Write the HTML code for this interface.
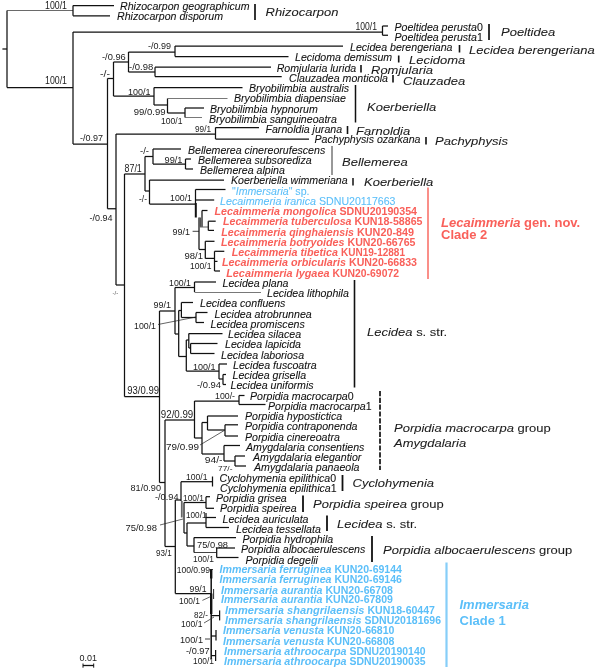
<!DOCTYPE html>
<html><head><meta charset="utf-8"><title>Phylogenetic tree</title>
<style>
html,body{margin:0;padding:0;background:#fff}
svg{display:block;filter:blur(0.35px)}
text{font-family:"Liberation Sans",Arial,sans-serif;fill:#111}
.sp{font-size:10.6px;font-style:italic;stroke:#111;stroke-width:0.08px}
.ge{font-size:13px;font-style:italic;fill:#1c1c1c;stroke:#1c1c1c;stroke-width:0.08px}
.su{font-size:8.8px;fill:#1a1a1a}
.up{font-style:normal}
.it{font-style:italic}
.bl{fill:#5bbff9;stroke:#5bbff9}
.bb{fill:#5bbff9;font-weight:bold;stroke:none}
.rd{fill:#f9605a;font-weight:bold;stroke:none}
.cl{font-size:13px;font-weight:bold}
</style></head><body>
<svg width="600" height="672" viewBox="0 0 600 672">
<rect width="600" height="672" fill="#fff"/>
<g stroke-linecap="butt" fill="none">
<line x1="2.4" y1="49" x2="7" y2="49" stroke="#111" stroke-width="1.25"/>
<line x1="7" y1="10.5" x2="7" y2="87.5" stroke="#111" stroke-width="1.25"/>
<line x1="7" y1="10.5" x2="73" y2="10.5" stroke="#444" stroke-width="0.8"/>
<line x1="73" y1="5.5" x2="73" y2="15.75" stroke="#111" stroke-width="1.25"/>
<line x1="73" y1="5.5" x2="114" y2="5.5" stroke="#111" stroke-width="1.25"/>
<line x1="73" y1="15.75" x2="110" y2="15.75" stroke="#111" stroke-width="1.25"/>
<line x1="7" y1="87.5" x2="73" y2="87.5" stroke="#111" stroke-width="1.25"/>
<line x1="73" y1="32" x2="73" y2="144" stroke="#111" stroke-width="1.25"/>
<line x1="73" y1="32" x2="382.5" y2="32" stroke="#111" stroke-width="1.25"/>
<line x1="382.5" y1="26.0" x2="382.5" y2="35.25" stroke="#111" stroke-width="1.25"/>
<line x1="382.5" y1="26.0" x2="388" y2="26.0" stroke="#111" stroke-width="1.25"/>
<line x1="382.5" y1="35.25" x2="388" y2="35.25" stroke="#111" stroke-width="1.25"/>
<line x1="73" y1="144" x2="107.5" y2="144" stroke="#111" stroke-width="1.25"/>
<line x1="107.5" y1="78.5" x2="107.5" y2="208.75" stroke="#111" stroke-width="1.25"/>
<line x1="107.5" y1="78.5" x2="113.5" y2="78.5" stroke="#111" stroke-width="1.25"/>
<line x1="113.5" y1="62" x2="113.5" y2="96" stroke="#111" stroke-width="1.25"/>
<line x1="113.5" y1="62" x2="128.5" y2="62" stroke="#111" stroke-width="1.25"/>
<line x1="128.5" y1="52" x2="128.5" y2="72" stroke="#111" stroke-width="1.25"/>
<line x1="128.5" y1="52" x2="175" y2="52" stroke="#111" stroke-width="1.25"/>
<line x1="175" y1="46" x2="175" y2="56.5" stroke="#111" stroke-width="1.25"/>
<line x1="175" y1="46" x2="343" y2="46" stroke="#111" stroke-width="1.25"/>
<line x1="175" y1="56.5" x2="288.5" y2="56.5" stroke="#111" stroke-width="1.25"/>
<line x1="128.5" y1="72" x2="155" y2="72" stroke="#111" stroke-width="1.25"/>
<line x1="155" y1="67.2" x2="155" y2="76.5" stroke="#111" stroke-width="1.25"/>
<line x1="155" y1="67.2" x2="271" y2="67.2" stroke="#111" stroke-width="1.25"/>
<line x1="155" y1="76.5" x2="281.7" y2="76.5" stroke="#111" stroke-width="1.25"/>
<line x1="113.5" y1="96" x2="154" y2="96" stroke="#111" stroke-width="1.25"/>
<line x1="154" y1="87.5" x2="154" y2="105" stroke="#111" stroke-width="1.25"/>
<line x1="154" y1="87.5" x2="242.5" y2="87.5" stroke="#111" stroke-width="1.25"/>
<line x1="154" y1="105" x2="167.5" y2="105" stroke="#111" stroke-width="1.25"/>
<line x1="167.5" y1="98.5" x2="167.5" y2="113" stroke="#111" stroke-width="1.25"/>
<line x1="167.5" y1="98.5" x2="227.5" y2="98.5" stroke="#555" stroke-width="0.8"/>
<line x1="167.5" y1="113" x2="185" y2="113" stroke="#111" stroke-width="1.25"/>
<line x1="185" y1="108" x2="185" y2="117.5" stroke="#111" stroke-width="1.25"/>
<line x1="185" y1="108" x2="204" y2="108" stroke="#111" stroke-width="1.25"/>
<line x1="185" y1="117.5" x2="202" y2="117.5" stroke="#555" stroke-width="0.8"/>
<line x1="107.5" y1="208.75" x2="116" y2="208.75" stroke="#111" stroke-width="1.25"/>
<line x1="116" y1="134" x2="116" y2="285" stroke="#111" stroke-width="1.25"/>
<line x1="116" y1="134" x2="215.5" y2="134" stroke="#111" stroke-width="1.25"/>
<line x1="215.5" y1="127.5" x2="215.5" y2="139" stroke="#111" stroke-width="1.25"/>
<line x1="215.5" y1="127.5" x2="259" y2="127.5" stroke="#111" stroke-width="1.25"/>
<line x1="215.5" y1="139" x2="309" y2="139" stroke="#111" stroke-width="1.25"/>
<line x1="116" y1="285" x2="124.5" y2="285" stroke="#111" stroke-width="1.25"/>
<line x1="124.5" y1="174" x2="124.5" y2="396.6" stroke="#111" stroke-width="1.25"/>
<line x1="124.5" y1="174" x2="145" y2="174" stroke="#111" stroke-width="1.25"/>
<line x1="145" y1="156.5" x2="145" y2="191" stroke="#111" stroke-width="1.25"/>
<line x1="145" y1="156.5" x2="153" y2="156.5" stroke="#111" stroke-width="1.25"/>
<line x1="153" y1="149" x2="153" y2="164" stroke="#111" stroke-width="1.25"/>
<line x1="153" y1="149" x2="181" y2="149" stroke="#111" stroke-width="1.25"/>
<line x1="153" y1="164" x2="185.5" y2="164" stroke="#111" stroke-width="1.25"/>
<line x1="185.5" y1="159" x2="185.5" y2="169" stroke="#111" stroke-width="1.25"/>
<line x1="185.5" y1="159" x2="191" y2="159" stroke="#111" stroke-width="1.25"/>
<line x1="185.5" y1="169" x2="193" y2="169" stroke="#111" stroke-width="1.25"/>
<line x1="145" y1="191" x2="149.5" y2="191" stroke="#111" stroke-width="1.25"/>
<line x1="149.5" y1="180" x2="149.5" y2="204" stroke="#111" stroke-width="1.25"/>
<line x1="149.5" y1="180" x2="224" y2="180" stroke="#111" stroke-width="1.25"/>
<line x1="149.5" y1="204" x2="195.5" y2="204" stroke="#111" stroke-width="1.25"/>
<line x1="195.5" y1="189.5" x2="195.5" y2="203.5" stroke="#111" stroke-width="1.25"/>
<line x1="195.5" y1="189.5" x2="225.5" y2="189.5" stroke="#111" stroke-width="1.25"/>
<line x1="195.5" y1="200" x2="214.2" y2="200" stroke="#111" stroke-width="1.25"/>
<line x1="195.8" y1="203" x2="195.8" y2="217.5" stroke="#111" stroke-width="2.0"/>
<line x1="199" y1="217.5" x2="199" y2="249.5" stroke="#111" stroke-width="1.25"/>
<line x1="200.2" y1="217.5" x2="200.2" y2="227" stroke="#555" stroke-width="1.6"/>
<line x1="202" y1="210.5" x2="202" y2="227" stroke="#111" stroke-width="1.25"/>
<line x1="202" y1="210.5" x2="207.5" y2="210.5" stroke="#111" stroke-width="1.25"/>
<line x1="199" y1="227" x2="208.3" y2="227" stroke="#666" stroke-width="1.0"/>
<line x1="208.3" y1="221.2" x2="208.3" y2="230.4" stroke="#111" stroke-width="1.25"/>
<line x1="208.3" y1="221.2" x2="215.7" y2="221.2" stroke="#111" stroke-width="1.25"/>
<line x1="208.3" y1="230.4" x2="214" y2="230.4" stroke="#111" stroke-width="1.25"/>
<line x1="192.6" y1="231.3" x2="199" y2="231.3" stroke="#111" stroke-width="0.8"/>
<line x1="199" y1="249.5" x2="205.3" y2="249.5" stroke="#111" stroke-width="1.25"/>
<line x1="205.3" y1="241.3" x2="205.3" y2="258.4" stroke="#111" stroke-width="1.25"/>
<line x1="205.3" y1="241.3" x2="214.5" y2="241.3" stroke="#111" stroke-width="1.25"/>
<line x1="205.3" y1="258.4" x2="214.5" y2="258.4" stroke="#111" stroke-width="1.25"/>
<line x1="214.5" y1="251.3" x2="214.5" y2="271" stroke="#111" stroke-width="1.25"/>
<line x1="214.5" y1="251.3" x2="224.3" y2="251.3" stroke="#111" stroke-width="1.25"/>
<line x1="214.5" y1="261.4" x2="217.5" y2="261.4" stroke="#111" stroke-width="1.25"/>
<line x1="214.5" y1="271" x2="220" y2="271" stroke="#111" stroke-width="1.25"/>
<line x1="124.5" y1="396.6" x2="159.5" y2="396.6" stroke="#111" stroke-width="1.25"/>
<line x1="159.5" y1="311" x2="159.5" y2="482.5" stroke="#111" stroke-width="1.25"/>
<line x1="159.5" y1="311" x2="175" y2="311" stroke="#111" stroke-width="1.25"/>
<line x1="175" y1="287.5" x2="175" y2="334" stroke="#111" stroke-width="1.25"/>
<line x1="175" y1="287.5" x2="194.5" y2="287.5" stroke="#111" stroke-width="1.25"/>
<line x1="194.5" y1="282" x2="194.5" y2="292" stroke="#111" stroke-width="1.25"/>
<line x1="194.5" y1="282" x2="216" y2="282" stroke="#111" stroke-width="1.25"/>
<line x1="194.5" y1="292.5" x2="261" y2="292.5" stroke="#555" stroke-width="0.8"/>
<line x1="175" y1="334" x2="178.7" y2="334" stroke="#111" stroke-width="1.25"/>
<line x1="178.7" y1="310.5" x2="178.7" y2="356.5" stroke="#111" stroke-width="1.25"/>
<line x1="178.7" y1="310.5" x2="181.4" y2="310.5" stroke="#111" stroke-width="1.25"/>
<line x1="181.4" y1="302.5" x2="181.4" y2="317.5" stroke="#111" stroke-width="1.25"/>
<line x1="181.4" y1="302.5" x2="193" y2="302.5" stroke="#111" stroke-width="1.25"/>
<line x1="181.4" y1="317.5" x2="196" y2="317.5" stroke="#111" stroke-width="1.25"/>
<line x1="196" y1="312.5" x2="196" y2="322.5" stroke="#111" stroke-width="1.25"/>
<line x1="196" y1="312.5" x2="207.5" y2="312.5" stroke="#111" stroke-width="1.25"/>
<line x1="196" y1="322.5" x2="204" y2="322.5" stroke="#111" stroke-width="1.25"/>
<line x1="158" y1="324.5" x2="196" y2="317" stroke="#222" stroke-width="0.7"/>
<line x1="178.7" y1="356.5" x2="186.3" y2="356.5" stroke="#111" stroke-width="1.25"/>
<line x1="186.3" y1="340" x2="186.3" y2="371" stroke="#111" stroke-width="1.25"/>
<line x1="186.3" y1="340" x2="188.8" y2="340" stroke="#111" stroke-width="1.25"/>
<line x1="188.8" y1="333.5" x2="188.8" y2="348" stroke="#111" stroke-width="1.25"/>
<line x1="188.8" y1="333.5" x2="222.5" y2="333.5" stroke="#111" stroke-width="1.25"/>
<line x1="188.8" y1="348" x2="190.6" y2="348" stroke="#111" stroke-width="1.25"/>
<line x1="190.6" y1="343.5" x2="190.6" y2="353.5" stroke="#111" stroke-width="1.25"/>
<line x1="190.6" y1="343.5" x2="217.5" y2="343.5" stroke="#111" stroke-width="1.25"/>
<line x1="190.6" y1="353.5" x2="214.5" y2="353.5" stroke="#111" stroke-width="1.25"/>
<line x1="186.3" y1="371" x2="219" y2="371" stroke="#111" stroke-width="1.25"/>
<line x1="219" y1="364" x2="219" y2="379" stroke="#111" stroke-width="1.25"/>
<line x1="219" y1="364" x2="227" y2="364" stroke="#111" stroke-width="1.25"/>
<line x1="219" y1="379" x2="223" y2="379" stroke="#111" stroke-width="1.25"/>
<line x1="223" y1="374.5" x2="223" y2="384.5" stroke="#111" stroke-width="1.25"/>
<line x1="223" y1="374.5" x2="226" y2="374.5" stroke="#111" stroke-width="1.25"/>
<line x1="223" y1="384.5" x2="226" y2="384.5" stroke="#111" stroke-width="1.25"/>
<line x1="159.5" y1="482.5" x2="165" y2="482.5" stroke="#111" stroke-width="1.25"/>
<line x1="165" y1="420" x2="165" y2="546.5" stroke="#111" stroke-width="1.25"/>
<line x1="165" y1="420" x2="194.5" y2="420" stroke="#111" stroke-width="1.25"/>
<line x1="194.5" y1="401" x2="194.5" y2="438" stroke="#111" stroke-width="1.25"/>
<line x1="194.5" y1="401" x2="239" y2="401" stroke="#111" stroke-width="1.25"/>
<line x1="239" y1="395.5" x2="239" y2="404.5" stroke="#111" stroke-width="1.25"/>
<line x1="239" y1="395.5" x2="244.5" y2="395.5" stroke="#111" stroke-width="1.25"/>
<line x1="239" y1="404.5" x2="265.5" y2="404.5" stroke="#111" stroke-width="1.25"/>
<line x1="194.5" y1="438" x2="202" y2="438" stroke="#111" stroke-width="1.25"/>
<line x1="202" y1="422.5" x2="202" y2="454" stroke="#111" stroke-width="1.25"/>
<line x1="202" y1="422.5" x2="207.5" y2="422.5" stroke="#111" stroke-width="1.25"/>
<line x1="207.5" y1="416" x2="207.5" y2="430" stroke="#111" stroke-width="1.25"/>
<line x1="207.5" y1="416" x2="238" y2="416" stroke="#111" stroke-width="1.25"/>
<line x1="207.5" y1="430" x2="225" y2="430" stroke="#111" stroke-width="1.25"/>
<line x1="225" y1="424.8" x2="225" y2="436" stroke="#111" stroke-width="1.25"/>
<line x1="225" y1="424.8" x2="238" y2="424.8" stroke="#111" stroke-width="1.25"/>
<line x1="225" y1="436" x2="238" y2="436" stroke="#111" stroke-width="1.25"/>
<line x1="200" y1="445" x2="225" y2="430" stroke="#222" stroke-width="0.7"/>
<line x1="202" y1="454" x2="224" y2="454" stroke="#111" stroke-width="1.25"/>
<line x1="224" y1="445.5" x2="224" y2="461" stroke="#111" stroke-width="1.25"/>
<line x1="224" y1="445.5" x2="240" y2="445.5" stroke="#111" stroke-width="1.25"/>
<line x1="224" y1="461" x2="235" y2="461" stroke="#111" stroke-width="1.25"/>
<line x1="235" y1="456" x2="235" y2="466" stroke="#111" stroke-width="1.25"/>
<line x1="235" y1="456" x2="245" y2="456" stroke="#111" stroke-width="1.25"/>
<line x1="235" y1="466" x2="246" y2="466" stroke="#111" stroke-width="1.25"/>
<line x1="165" y1="546.5" x2="175.3" y2="546.5" stroke="#111" stroke-width="1.25"/>
<line x1="175.3" y1="500" x2="175.3" y2="593.5" stroke="#111" stroke-width="1.25"/>
<line x1="175.3" y1="500" x2="181" y2="500" stroke="#111" stroke-width="1.25"/>
<line x1="181" y1="481.7" x2="181" y2="501" stroke="#111" stroke-width="1.25"/>
<line x1="181.8" y1="501" x2="181.8" y2="517.5" stroke="#666" stroke-width="1.8"/>
<line x1="181" y1="481.7" x2="212.5" y2="481.7" stroke="#111" stroke-width="1.25"/>
<line x1="212.5" y1="476.5" x2="212.5" y2="486.5" stroke="#111" stroke-width="1.25"/>
<line x1="184" y1="502.5" x2="184" y2="533" stroke="#111" stroke-width="1.25"/>
<line x1="184" y1="502.5" x2="206" y2="502.5" stroke="#111" stroke-width="1.25"/>
<line x1="206" y1="496.7" x2="206" y2="508.3" stroke="#111" stroke-width="1.25"/>
<line x1="206" y1="496.7" x2="210" y2="496.7" stroke="#111" stroke-width="1.25"/>
<line x1="206" y1="508.3" x2="214" y2="508.3" stroke="#111" stroke-width="1.25"/>
<line x1="184" y1="533" x2="187" y2="533" stroke="#111" stroke-width="1.25"/>
<line x1="187" y1="523" x2="187" y2="546" stroke="#111" stroke-width="1.25"/>
<line x1="187" y1="523" x2="206" y2="523" stroke="#111" stroke-width="1.25"/>
<line x1="206" y1="513" x2="206" y2="527.5" stroke="#111" stroke-width="1.25"/>
<line x1="206" y1="517.5" x2="216" y2="517.5" stroke="#111" stroke-width="1.25"/>
<line x1="206" y1="527.5" x2="229" y2="527.5" stroke="#111" stroke-width="1.25"/>
<line x1="160" y1="525" x2="183" y2="519" stroke="#222" stroke-width="0.7"/>
<line x1="187" y1="546" x2="194" y2="546" stroke="#111" stroke-width="1.25"/>
<line x1="194" y1="537.5" x2="194" y2="552.5" stroke="#111" stroke-width="1.25"/>
<line x1="194" y1="537.5" x2="236" y2="537.5" stroke="#111" stroke-width="1.25"/>
<line x1="194" y1="552.5" x2="216.7" y2="552.5" stroke="#111" stroke-width="0.8"/>
<line x1="216.7" y1="548" x2="216.7" y2="557.5" stroke="#111" stroke-width="1.25"/>
<line x1="216.7" y1="548" x2="235" y2="548" stroke="#111" stroke-width="1.25"/>
<line x1="216.7" y1="557.5" x2="238.5" y2="557.5" stroke="#111" stroke-width="1.25"/>
<line x1="175.3" y1="593.5" x2="211" y2="593.5" stroke="#111" stroke-width="1.25"/>
<line x1="211.2" y1="569.5" x2="211.2" y2="659" stroke="#111" stroke-width="1.5"/>
<line x1="211.2" y1="569.5" x2="211.2" y2="578.5" stroke="#111" stroke-width="2.4"/>
<line x1="211.2" y1="593.5" x2="211.2" y2="614" stroke="#111" stroke-width="2.4"/>
<line x1="209.5" y1="569.5" x2="213" y2="569.5" stroke="#111" stroke-width="0.8"/>
<line x1="213.6" y1="589" x2="213.6" y2="599" stroke="#111" stroke-width="0.9"/>
<line x1="202.4" y1="600.4" x2="211" y2="596.4" stroke="#222" stroke-width="0.7"/>
<line x1="211" y1="615.6" x2="219.6" y2="615.6" stroke="#111" stroke-width="1.25"/>
<line x1="219.6" y1="610.4" x2="219.6" y2="620.4" stroke="#111" stroke-width="1.25"/>
<line x1="204" y1="623" x2="214" y2="617" stroke="#222" stroke-width="0.7"/>
<line x1="205" y1="639" x2="210" y2="639" stroke="#111" stroke-width="0.8"/>
<line x1="211" y1="636" x2="216" y2="636" stroke="#111" stroke-width="1.25"/>
<line x1="216" y1="630" x2="216" y2="640.5" stroke="#111" stroke-width="1.25"/>
<line x1="211" y1="655.6" x2="215.6" y2="655.6" stroke="#111" stroke-width="1.25"/>
<line x1="215.6" y1="650" x2="215.6" y2="661" stroke="#111" stroke-width="1.25"/>
<line x1="83" y1="665.5" x2="93.7" y2="665.5" stroke="#111" stroke-width="1.3"/>
<line x1="83" y1="663.5" x2="83" y2="667.7" stroke="#111" stroke-width="1.0"/>
<line x1="93.7" y1="663.5" x2="93.7" y2="667.7" stroke="#111" stroke-width="1.0"/>
<line x1="255" y1="4" x2="255" y2="20" stroke="#111" stroke-width="1.7"/>
<line x1="489" y1="24" x2="489" y2="40" stroke="#111" stroke-width="1.7"/>
<line x1="459.5" y1="45" x2="459.5" y2="52.5" stroke="#111" stroke-width="1.6"/>
<line x1="398.7" y1="55.5" x2="398.7" y2="62.5" stroke="#111" stroke-width="1.6"/>
<line x1="361" y1="65" x2="361" y2="72.5" stroke="#111" stroke-width="1.6"/>
<line x1="393" y1="75" x2="393" y2="82.5" stroke="#111" stroke-width="1.6"/>
<line x1="355.5" y1="85" x2="355.5" y2="122.5" stroke="#111" stroke-width="1.5"/>
<line x1="347.5" y1="126" x2="347.5" y2="134" stroke="#111" stroke-width="1.6"/>
<line x1="426" y1="137" x2="426" y2="144.5" stroke="#111" stroke-width="1.6"/>
<line x1="332" y1="146" x2="332" y2="175" stroke="#333" stroke-width="1.0"/>
<line x1="353" y1="178" x2="353" y2="185.5" stroke="#111" stroke-width="1.5"/>
<line x1="428" y1="187.5" x2="428" y2="279" stroke="#f96a62" stroke-width="1.5"/>
<line x1="354.5" y1="280" x2="354.5" y2="387.5" stroke="#111" stroke-width="1.6"/>
<line x1="342.5" y1="475" x2="342.5" y2="491" stroke="#111" stroke-width="1.8"/>
<line x1="303" y1="495.5" x2="303" y2="512" stroke="#111" stroke-width="1.8"/>
<line x1="327" y1="515.5" x2="327" y2="531" stroke="#111" stroke-width="1.8"/>
<line x1="372" y1="536" x2="372" y2="562" stroke="#111" stroke-width="1.8"/>
<line x1="446.5" y1="562.5" x2="446.5" y2="667" stroke="#86cef8" stroke-width="2.2"/>
<line x1="380" y1="391" x2="380" y2="470" stroke="#111" stroke-width="1.7" stroke-dasharray="5.2 1.6"/>
</g>
<g>
<text x="120" y="10.2" class="sp">Rhizocarpon geographicum</text>
<text x="117" y="20.45" class="sp">Rhizocarpon disporum</text>
<text x="394.5" y="30.7" class="sp">Poeltidea perusta<tspan class="up">0</tspan></text>
<text x="394.5" y="40.95" class="sp">Poeltidea perusta<tspan class="up">1</tspan></text>
<text x="350" y="51.2" class="sp">Lecidea berengeriana</text>
<text x="295" y="61.45" class="sp">Lecidoma demissum</text>
<text x="276.7" y="71.7" class="sp">Romjularia lurida</text>
<text x="289" y="81.95" class="sp">Clauzadea monticola</text>
<text x="249" y="92.2" class="sp">Bryobilimbia australis</text>
<text x="234" y="102.45" class="sp">Bryobilimbia diapensiae</text>
<text x="210" y="112.7" class="sp">Bryobilimbia hypnorum</text>
<text x="209" y="122.95" class="sp">Bryobilimbia sanguineoatra</text>
<text x="265.5" y="133.2" class="sp">Farnoldia jurana</text>
<text x="314.5" y="143.45" class="sp">Pachyphysis ozarkana</text>
<text x="188" y="153.7" class="sp">Bellemerea cinereorufescens</text>
<text x="198" y="163.95" class="sp">Bellemerea subsorediza</text>
<text x="200" y="174.2" class="sp">Bellemerea alpina</text>
<text x="231" y="184.45" class="sp">Koerberiella wimmeriana</text>
<text x="222.5" y="286.95" class="sp">Lecidea plana</text>
<text x="267" y="297.2" class="sp">Lecidea lithophila</text>
<text x="200" y="307.45" class="sp">Lecidea confluens</text>
<text x="214.5" y="317.7" class="sp">Lecidea atrobrunnea</text>
<text x="210.5" y="327.95" class="sp">Lecidea promiscens</text>
<text x="228" y="338.2" class="sp">Lecidea silacea</text>
<text x="225" y="348.45" class="sp">Lecidea lapicida</text>
<text x="221" y="358.7" class="sp">Lecidea laboriosa</text>
<text x="233" y="368.95" class="sp">Lecidea fuscoatra</text>
<text x="232.5" y="379.2" class="sp">Lecidea grisella</text>
<text x="230.5" y="389.45" class="sp">Lecidea uniformis</text>
<text x="250" y="399.7" class="sp">Porpidia macrocarpa<tspan class="up">0</tspan></text>
<text x="268" y="409.95" class="sp">Porpidia macrocarpa<tspan class="up">1</tspan></text>
<text x="245" y="420.2" class="sp">Porpidia hypostictica</text>
<text x="245" y="430.45" class="sp">Porpidia contraponenda</text>
<text x="245" y="440.7" class="sp">Porpidia cinereoatra</text>
<text x="246" y="450.95" class="sp">Amygdalaria consentiens</text>
<text x="253" y="461.2" class="sp">Amygdalaria elegantior</text>
<text x="254" y="471.45" class="sp">Amygdalaria panaeola</text>
<text x="219.5" y="481.7" class="sp">Cyclohymenia epilithica<tspan class="up">0</tspan></text>
<text x="220" y="491.95" class="sp">Cyclohymenia epilithica<tspan class="up">1</tspan></text>
<text x="216" y="502.2" class="sp">Porpidia grisea</text>
<text x="220" y="512.45" class="sp">Porpidia speirea</text>
<text x="222.5" y="522.7" class="sp">Lecidea auriculata</text>
<text x="236" y="532.95" class="sp">Lecidea tessellata</text>
<text x="242.5" y="543.2" class="sp">Porpidia hydrophila</text>
<text x="241" y="553.45" class="sp">Porpidia albocaerulescens</text>
<text x="245.5" y="563.7" class="sp">Porpidia degelii</text>
<text x="220" y="204.95" class="sp bl" textLength="96.0" lengthAdjust="spacingAndGlyphs">Lecaimmeria iranica</text>
<text x="319" y="204.95" class="sp up bl" textLength="76.5" lengthAdjust="spacingAndGlyphs">SDNU20117663</text>
<text x="214.5" y="215.2" class="sp rd" textLength="122.0" lengthAdjust="spacingAndGlyphs">Lecaimmeria mongolica</text>
<text x="339.5" y="215.2" class="sp up rd" textLength="77.5" lengthAdjust="spacingAndGlyphs">SDNU20190354</text>
<text x="223" y="225.45" class="sp rd" textLength="128.5" lengthAdjust="spacingAndGlyphs">Lecaimmeria tuberculosa</text>
<text x="354.5" y="225.45" class="sp up rd" textLength="68.0" lengthAdjust="spacingAndGlyphs">KUN18-58865</text>
<text x="221.3" y="235.7" class="sp rd" textLength="132.7" lengthAdjust="spacingAndGlyphs">Lecaimmeria qinghaiensis</text>
<text x="357" y="235.7" class="sp up rd" textLength="57.0" lengthAdjust="spacingAndGlyphs">KUN20-849</text>
<text x="221" y="245.95" class="sp rd" textLength="123.5" lengthAdjust="spacingAndGlyphs">Lecaimmeria botryoides</text>
<text x="347.5" y="245.95" class="sp up rd" textLength="68.0" lengthAdjust="spacingAndGlyphs">KUN20-66765</text>
<text x="231.8" y="256.2" class="sp rd" textLength="106.2" lengthAdjust="spacingAndGlyphs">Lecaimmeria tibetica</text>
<text x="341" y="256.2" class="sp up rd" textLength="64.0" lengthAdjust="spacingAndGlyphs">KUN19-12881</text>
<text x="222" y="266.45" class="sp rd" textLength="124.0" lengthAdjust="spacingAndGlyphs">Lecaimmeria orbicularis</text>
<text x="349" y="266.45" class="sp up rd" textLength="68.0" lengthAdjust="spacingAndGlyphs">KUN20-66833</text>
<text x="226.2" y="276.7" class="sp rd" textLength="103.3" lengthAdjust="spacingAndGlyphs">Lecaimmeria lygaea</text>
<text x="332.5" y="276.7" class="sp up rd" textLength="66.5" lengthAdjust="spacingAndGlyphs">KUN20-69072</text>
<text x="219.5" y="573" class="sp bb" textLength="112.0" lengthAdjust="spacingAndGlyphs">Immersaria ferruginea</text>
<text x="334.5" y="573" class="sp up bb" textLength="67.5" lengthAdjust="spacingAndGlyphs">KUN20-69144</text>
<text x="219.5" y="583" class="sp bb" textLength="112.0" lengthAdjust="spacingAndGlyphs">Immersaria ferruginea</text>
<text x="334.5" y="583" class="sp up bb" textLength="67.5" lengthAdjust="spacingAndGlyphs">KUN20-69146</text>
<text x="221" y="593.5" class="sp bb" textLength="101.5" lengthAdjust="spacingAndGlyphs">Immersaria aurantia</text>
<text x="325.5" y="593.5" class="sp up bb" textLength="67.5" lengthAdjust="spacingAndGlyphs">KUN20-66708</text>
<text x="221" y="603.3" class="sp bb" textLength="101.5" lengthAdjust="spacingAndGlyphs">Immersaria aurantia</text>
<text x="325.5" y="603.3" class="sp up bb" textLength="67.5" lengthAdjust="spacingAndGlyphs">KUN20-67809</text>
<text x="225" y="613.6" class="sp bb" textLength="139.5" lengthAdjust="spacingAndGlyphs">Immersaria shangrilaensis</text>
<text x="367.5" y="613.6" class="sp up bb" textLength="67.5" lengthAdjust="spacingAndGlyphs">KUN18-60447</text>
<text x="225" y="624" class="sp bb" textLength="136.5" lengthAdjust="spacingAndGlyphs">Immersaria shangrilaensis</text>
<text x="364.5" y="624" class="sp up bb" textLength="76.5" lengthAdjust="spacingAndGlyphs">SDNU20181696</text>
<text x="223" y="634.4" class="sp bb" textLength="101.0" lengthAdjust="spacingAndGlyphs">Immersaria venusta</text>
<text x="327" y="634.4" class="sp up bb" textLength="67.5" lengthAdjust="spacingAndGlyphs">KUN20-66810</text>
<text x="223" y="644.5" class="sp bb" textLength="101.0" lengthAdjust="spacingAndGlyphs">Immersaria venusta</text>
<text x="327" y="644.5" class="sp up bb" textLength="67.5" lengthAdjust="spacingAndGlyphs">KUN20-66808</text>
<text x="224" y="654.5" class="sp bb" textLength="122.5" lengthAdjust="spacingAndGlyphs">Immersaria athroocarpa</text>
<text x="349.5" y="654.5" class="sp up bb" textLength="76.0" lengthAdjust="spacingAndGlyphs">SDNU20190140</text>
<text x="224" y="664.5" class="sp bb" textLength="122.5" lengthAdjust="spacingAndGlyphs">Immersaria athroocarpa</text>
<text x="349.5" y="664.5" class="sp up bb" textLength="76.0" lengthAdjust="spacingAndGlyphs">SDNU20190035</text>
<text x="232" y="194.7" class="sp bl" textLength="77.5" lengthAdjust="spacingAndGlyphs"><tspan class="up">"</tspan>Immersaria<tspan class="up">" sp.</tspan></text>
<text transform="translate(265.5 16.1) scale(1 0.9)" class="ge">Rhizocarpon</text>
<text transform="translate(501 35.6) scale(1 0.9)" class="ge">Poeltidea</text>
<text transform="translate(469 53.6) scale(1 0.9)" class="ge">Lecidea berengeriana</text>
<text transform="translate(409 64.1) scale(1 0.9)" class="ge">Lecidoma</text>
<text transform="translate(371 73.6) scale(1 0.9)" class="ge">Romjularia</text>
<text transform="translate(403 84.6) scale(1 0.9)" class="ge">Clauzadea</text>
<text transform="translate(367 111.1) scale(1 0.9)" class="ge">Koerberiella</text>
<text transform="translate(356 135.1) scale(1 0.9)" class="ge">Farnoldia</text>
<text transform="translate(435 144.6) scale(1 0.9)" class="ge">Pachyphysis</text>
<text transform="translate(342 165.6) scale(1 0.9)" class="ge">Bellemerea</text>
<text transform="translate(364 186.1) scale(1 0.9)" class="ge">Koerberiella</text>
<text transform="translate(367 335.6) scale(1 0.9)" class="ge">Lecidea <tspan class="up">s. str.</tspan></text>
<text transform="translate(394 431.6) scale(1 0.9)" class="ge">Porpidia macrocarpa <tspan class="up">group</tspan></text>
<text transform="translate(394 446.6) scale(1 0.9)" class="ge">Amygdalaria</text>
<text transform="translate(352.5 486.6) scale(1 0.9)" class="ge">Cyclohymenia</text>
<text transform="translate(313 507.6) scale(1 0.9)" class="ge">Porpidia speirea <tspan class="up">group</tspan></text>
<text transform="translate(337 528.1) scale(1 0.9)" class="ge">Lecidea <tspan class="up">s. str.</tspan></text>
<text transform="translate(383 553.6) scale(1 0.9)" class="ge">Porpidia albocaerulescens <tspan class="up">group</tspan></text>
<text x="441" y="227" class="cl rd"><tspan class="it">Lecaimmeria</tspan> gen. nov.</text>
<text x="441" y="238.5" class="cl rd">Clade 2</text>
<text x="459.5" y="608.5" class="cl bb"><tspan class="it">Immersaria</tspan></text>
<text x="459.5" y="624.5" class="cl bb">Clade 1</text>
<text x="45" y="9.2" class="su" style="font-size:10.2px" textLength="22.0" lengthAdjust="spacingAndGlyphs">100/1</text>
<text x="45" y="84.3" class="su" style="font-size:10.2px" textLength="22.0" lengthAdjust="spacingAndGlyphs">100/1</text>
<text x="80" y="141" class="su" style="font-size:8.8px" textLength="23.0" lengthAdjust="spacingAndGlyphs">-/0.97</text>
<text x="102" y="59.5" class="su" style="font-size:8.8px" textLength="23.8" lengthAdjust="spacingAndGlyphs">-/0.96</text>
<text x="129" y="69.5" class="su" style="font-size:8.8px" textLength="24.3" lengthAdjust="spacingAndGlyphs">-/0.98</text>
<text x="100" y="77" class="su" style="font-size:8.8px" textLength="10.0" lengthAdjust="spacingAndGlyphs">-/-</text>
<text x="148" y="49" class="su" style="font-size:8.8px" textLength="23.0" lengthAdjust="spacingAndGlyphs">-/0.99</text>
<text x="128" y="94.5" class="su" style="font-size:9.6px" textLength="22.5" lengthAdjust="spacingAndGlyphs">100/1</text>
<text x="133.7" y="114.5" class="su" style="font-size:8.8px" textLength="31.8" lengthAdjust="spacingAndGlyphs">99/0.99</text>
<text x="161" y="124" class="su" style="font-size:8.8px" textLength="21.5" lengthAdjust="spacingAndGlyphs">100/1</text>
<text x="195" y="131.5" class="su" style="font-size:8.8px" textLength="16.0" lengthAdjust="spacingAndGlyphs">99/1</text>
<text x="355.5" y="29.5" class="su" style="font-size:10.2px" textLength="21.5" lengthAdjust="spacingAndGlyphs">100/1</text>
<text x="140" y="154" class="su" style="font-size:8.8px" textLength="9.0" lengthAdjust="spacingAndGlyphs">-/-</text>
<text x="164.5" y="162.5" class="su" style="font-size:8.8px" textLength="18.0" lengthAdjust="spacingAndGlyphs">99/1</text>
<text x="124.5" y="171.5" class="su" style="font-size:10.2px" textLength="17.3" lengthAdjust="spacingAndGlyphs">87/1</text>
<text x="139" y="202" class="su" style="font-size:8.8px" textLength="8.0" lengthAdjust="spacingAndGlyphs">-/-</text>
<text x="170" y="201" class="su" style="font-size:9.6px" textLength="22.0" lengthAdjust="spacingAndGlyphs">100/1</text>
<text x="89.5" y="221" class="su" style="font-size:8.8px" textLength="23.0" lengthAdjust="spacingAndGlyphs">-/0.94</text>
<text x="172.5" y="235" class="su" style="font-size:8.8px" textLength="17.5" lengthAdjust="spacingAndGlyphs">99/1</text>
<text x="184.5" y="258.7" class="su" style="font-size:8.8px" textLength="18.5" lengthAdjust="spacingAndGlyphs">98/1</text>
<text x="190" y="269.3" class="su" style="font-size:8.8px" textLength="21.5" lengthAdjust="spacingAndGlyphs">100/1</text>
<text x="169" y="285.5" class="su" style="font-size:8.8px" textLength="22.0" lengthAdjust="spacingAndGlyphs">100/1</text>
<text x="153.5" y="308" class="su" style="font-size:8.8px" textLength="17.5" lengthAdjust="spacingAndGlyphs">99/1</text>
<text x="134" y="328.5" class="su" style="font-size:8.8px" textLength="22.0" lengthAdjust="spacingAndGlyphs">100/1</text>
<text x="193" y="369.5" class="su" style="font-size:8.8px" textLength="22.5" lengthAdjust="spacingAndGlyphs">100/1</text>
<text x="197" y="387.5" class="su" style="font-size:8.8px" textLength="24.0" lengthAdjust="spacingAndGlyphs">-/0.94</text>
<text x="127.3" y="394.2" class="su" style="font-size:10.2px" textLength="31.7" lengthAdjust="spacingAndGlyphs">93/0.99</text>
<text x="215" y="399" class="su" style="font-size:8.8px" textLength="20.0" lengthAdjust="spacingAndGlyphs">100/-</text>
<text x="160.8" y="417.5" class="su" style="font-size:10.2px" textLength="32.5" lengthAdjust="spacingAndGlyphs">92/0.99</text>
<text x="166" y="450" class="su" style="font-size:8.4px" textLength="33.0" lengthAdjust="spacingAndGlyphs">79/0.99</text>
<text x="204.8" y="462.5" class="su" style="font-size:8.8px" textLength="17.7" lengthAdjust="spacingAndGlyphs">94/-</text>
<text x="186" y="480.3" class="su" style="font-size:8.8px" textLength="21.5" lengthAdjust="spacingAndGlyphs">100/1</text>
<text x="130.5" y="491" class="su" style="font-size:8.8px" textLength="30.5" lengthAdjust="spacingAndGlyphs">81/0.90</text>
<text x="155" y="500" class="su" style="font-size:8.8px" textLength="23.5" lengthAdjust="spacingAndGlyphs">-/0.94</text>
<text x="183" y="501" class="su" style="font-size:8.8px" textLength="21.0" lengthAdjust="spacingAndGlyphs">100/1</text>
<text x="186" y="518" class="su" style="font-size:8.8px" textLength="20.5" lengthAdjust="spacingAndGlyphs">100/1</text>
<text x="125.5" y="530.5" class="su" style="font-size:8.8px" textLength="31.5" lengthAdjust="spacingAndGlyphs">75/0.98</text>
<text x="197" y="547.5" class="su" style="font-size:8.8px" textLength="31.0" lengthAdjust="spacingAndGlyphs">75/0.98</text>
<text x="156" y="556" class="su" style="font-size:8.8px" textLength="15.7" lengthAdjust="spacingAndGlyphs">93/1</text>
<text x="193" y="561.7" class="su" style="font-size:8.8px" textLength="21.0" lengthAdjust="spacingAndGlyphs">100/1</text>
<text x="176.7" y="573.3" class="su" style="font-size:8.8px" textLength="33.3" lengthAdjust="spacingAndGlyphs">100/0.99</text>
<text x="189.6" y="591.6" class="su" style="font-size:8.8px" textLength="16.9" lengthAdjust="spacingAndGlyphs">99/1</text>
<text x="179" y="603.6" class="su" style="font-size:8.8px" textLength="21.0" lengthAdjust="spacingAndGlyphs">100/1</text>
<text x="194" y="618.2" class="su" style="font-size:8.8px" textLength="14.0" lengthAdjust="spacingAndGlyphs">82/-</text>
<text x="181" y="627" class="su" style="font-size:8.8px" textLength="21.4" lengthAdjust="spacingAndGlyphs">100/1</text>
<text x="180" y="643" class="su" style="font-size:8.8px" textLength="23.0" lengthAdjust="spacingAndGlyphs">100/1</text>
<text x="186" y="654" class="su" style="font-size:8.8px" textLength="23.6" lengthAdjust="spacingAndGlyphs">-/0.97</text>
<text x="193" y="664.2" class="su" style="font-size:8.8px" textLength="21.0" lengthAdjust="spacingAndGlyphs">100/1</text>
<text x="218" y="470.5" class="su" style="font-size:7.6px" textLength="14.5" lengthAdjust="spacingAndGlyphs">77/-</text>
<text x="112.5" y="295" class="su" style="font-size:6px;fill:#555">-/-</text>
<text x="79.5" y="661.3" class="su" textLength="17.5" lengthAdjust="spacingAndGlyphs">0.01</text>
</g>
</svg>
</body></html>
